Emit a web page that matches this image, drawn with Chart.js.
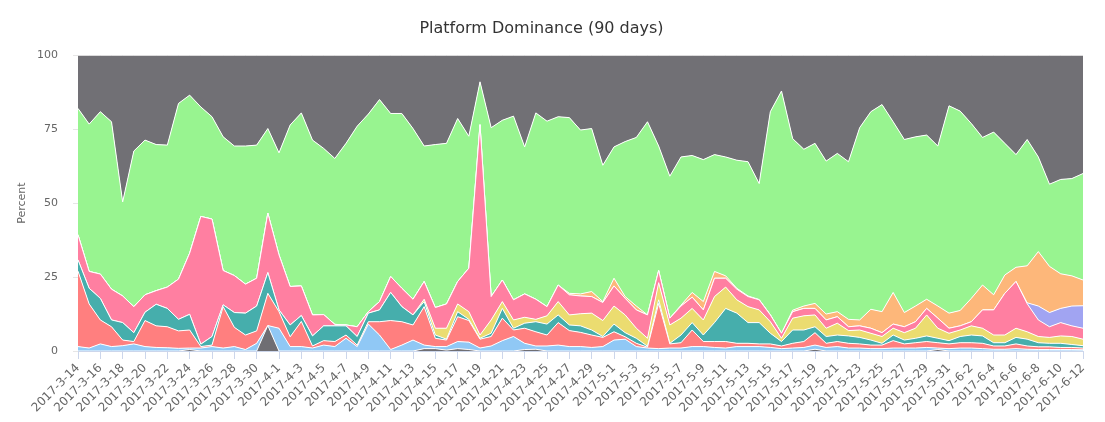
<!DOCTYPE html>
<html>
<head>
<meta charset="utf-8">
<script src="https://cdn.jsdelivr.net/npm/chart.js@4.4.1/dist/chart.umd.min.js"></script>
<style>
  html, body { margin: 0; padding: 0; background: #fff; }
  #wrap { width: 1105px; height: 422px; position: relative; }
</style>
</head>
<body>
<div id="wrap"><canvas id="chart"></canvas></div>
<script>
// days, 2017-3-14 .. 2017-6-12
const days = [
  '2017-3-14','2017-3-15','2017-3-16','2017-3-17','2017-3-18','2017-3-19','2017-3-20','2017-3-21','2017-3-22','2017-3-23',
  '2017-3-24','2017-3-25','2017-3-26','2017-3-27','2017-3-28','2017-3-29','2017-3-30','2017-3-31','2017-4-1','2017-4-2',
  '2017-4-3','2017-4-4','2017-4-5','2017-4-6','2017-4-7','2017-4-8','2017-4-9','2017-4-10','2017-4-11','2017-4-12',
  '2017-4-13','2017-4-14','2017-4-15','2017-4-16','2017-4-17','2017-4-18','2017-4-19','2017-4-20','2017-4-21','2017-4-22',
  '2017-4-23','2017-4-24','2017-4-25','2017-4-26','2017-4-27','2017-4-28','2017-4-29','2017-4-30','2017-5-1','2017-5-2',
  '2017-5-3','2017-5-4','2017-5-5','2017-5-6','2017-5-7','2017-5-8','2017-5-9','2017-5-10','2017-5-11','2017-5-12',
  '2017-5-13','2017-5-14','2017-5-15','2017-5-16','2017-5-17','2017-5-18','2017-5-19','2017-5-20','2017-5-21','2017-5-22',
  '2017-5-23','2017-5-24','2017-5-25','2017-5-26','2017-5-27','2017-5-28','2017-5-29','2017-5-30','2017-5-31','2017-6-1',
  '2017-6-2','2017-6-3','2017-6-4','2017-6-5','2017-6-6','2017-6-7','2017-6-8','2017-6-9','2017-6-10','2017-6-11',
  '2017-6-12'
];

const yTicks = [0, 25, 50, 75, 100];

// percent per platform, bottom of the stack first
const darkSmall = [
  0,0,0,0,0,0,0,0,0,0, 0.5,0,0,0,0,0,0,8.6,0,0,
  0,0,0,0,0,0,0,0,0,0, 0,0.8,0.8,0.3,0.8,0.5,0,0,0,0,
  0.5,0.6,0,0,0,0,0,0,0,0, 0,0,0,0,0,0,0,0,0,0,
  0,0,0,0,0,0,0.6,0,0,0, 0,0,0,0,0,0,0,0.5,0,0,
  0,0,0,0,0,0,0,0,0,0, 0
];
const skyBlue = [
  1.5,1.0,2.4,1.5,1.8,2.4,1.5,1.2,1.1,0.9, 0.5,1.0,1.5,1.0,1.5,0.5,2.6,0,7.7,1.5,
  1.5,1.0,2.0,1.5,4.3,1.5,9.1,5.4,0.5,2.0, 3.7,1.2,0.7,1.2,2.4,2.5,1.0,1.7,3.5,4.9,
  2.1,1.1,1.7,2.0,1.5,1.5,1.2,1.5,3.7,4.0, 1.5,1.0,0.8,1.0,1.0,1.5,1.5,1.2,1.0,1.5,
  1.5,1.5,1.2,0.8,1.0,1.2,1.4,1.2,1.5,1.0, 1.0,0.8,0.8,1.0,1.0,1.0,1.2,0.5,0.8,1.0,
  1.0,0.8,0.6,0.6,0.8,0.6,0.5,0.5,0.5,0.5, 0.4
];
const salmon = [
  25.5,14.9,8.1,6.7,1.9,0.8,8.8,7.3,7.1,5.9, 6.1,0.5,0.5,14.0,6.5,4.9,4.2,10.9,5.6,3.3,
  8.5,0.7,1.5,1.7,1.1,0.5,0.8,4.5,9.8,7.9, 5.1,13.0,2.8,2.2,8.4,7.3,3.0,3.2,7.6,2.2,
  5.1,4.8,3.7,7.6,5.4,4.8,4.2,3.1,2.8,0.8, 1.1,0.3,15.3,1.4,1.8,5.6,1.7,2.0,2.2,1.1,
  1.1,0.9,1.2,0.9,1.6,2.0,4.2,1.4,1.7,1.6, 1.4,1.2,1.2,2.5,1.4,1.8,2.0,1.8,1.6,1.8,
  1.8,1.8,1.1,1.1,1.6,1.1,0.9,0.9,0.7,0.7, 0.6
];
const teal = [
  3.8,5.3,7.3,2.3,5.9,3.0,2.8,7.3,6.2,3.9, 5.3,0.8,2.9,0.6,5.0,7.4,8.4,7.0,0.6,4.0,
  2.0,3.4,5.0,5.3,3.1,2.9,2.9,4.0,9.5,5.1, 3.4,1.7,1.1,0.3,1.7,0.4,0.3,1.1,3.3,0.6,
  1.7,3.4,3.7,2.6,1.9,2.2,1.7,0.3,2.6,1.4, 1.7,0.3,1.2,0.2,2.6,2.5,2.2,6.4,11.2,10.2,
  7.0,7.2,3.6,1.5,4.5,3.9,2.0,2.3,2.2,2.5, 2.2,1.7,0.6,1.9,1.3,1.5,1.9,1.5,1.1,2.1,
  2.6,2.5,1.1,1.1,2.2,2.3,1.4,1.2,1.4,1.0, 0.8
];
const yellow = [
  0,0,0,0,0,0,0,0,0,0, 0,0,0,0,0,0,0,0,0,0,
  0,0,0,0,0,0,0,0,0,0, 0,0.8,2.3,3.7,2.6,2.6,1.1,4.5,2.3,2.8,
  2.0,0.8,2.8,4.5,3.4,4.1,5.7,5.4,6.1,6.0, 3.4,2.7,5.8,6.2,5.7,4.8,5.1,8.8,7.2,4.5,
  5.4,4.3,3.9,1.1,4.0,4.8,4.0,2.8,4.0,1.8, 2.5,2.3,2.3,2.3,2.5,3.4,7.1,3.4,2.5,2.2,
  3.1,2.6,2.6,2.6,3.1,2.5,2.1,2.0,2.5,2.7, 2.2
];
const pink = [
  8.5,5.7,8.2,10.4,9.0,8.8,5.9,4.6,7.2,13.6, 20.7,43.2,39.7,11.6,12.5,9.8,9.4,20.1,18.6,13.0,
  10.0,7.1,3.8,0.5,0.3,3.3,0.5,2.8,5.4,6.2, 5.3,6.0,7.0,8.2,7.6,14.7,71.1,7.9,7.3,6.8,
  7.9,6.8,3.1,5.6,6.8,6.0,5.6,6.1,6.8,5.6, 6.2,7.9,4.1,2.3,4.1,3.8,3.4,6.2,3.0,3.6,
  3.4,3.4,2.3,1.7,2.2,2.5,2.2,2.8,2.2,1.3, 1.4,1.7,1.3,1.4,2.0,2.2,2.2,3.4,1.7,1.4,
  1.4,6.2,8.5,14.1,15.8,9.5,5.6,3.6,4.5,3.6, 3.7
];
const periwinkle = [
  0,0,0,0,0,0,0,0,0,0, 0,0,0,0,0,0,0,0,0,0,
  0,0,0,0,0,0,0,0,0,0, 0,0,0,0,0,0,0,0,0,0,
  0,0,0,0,0,0,0,0,0,0, 0,0,0,0,0,0,0,0,0,0,
  0,0,0,0,0,0,0,0,0,0, 0,0,0,0,0,0,0,0,0,0,
  0,0,0,0,0,0.3,4.7,4.8,4.8,6.7, 7.6
];
const orange = [
  0,0,0,0,0,0,0,0,0,0, 0,0,0,0,0,0,0,0,0,0,
  0,0,0,0,0,0,0,0,0,0, 0,0,0,0,0,0,0,0,0,0,
  0,0,0,0,0.5,0.7,1.7,0.3,2.6,0.6, 1.3,0,0,0,0.3,1.6,2.8,2.3,0.8,0.3,
  0.2,0.1,0.1,0,0.5,0.8,1.7,2.0,1.7,2.5, 2.0,6.4,7.1,10.7,4.8,5.3,3.1,4.1,5.1,5.2,
  7.9,8.4,5.1,6.2,4.8,12.5,18.4,15.6,11.7,10.2, 8.7
];
const green = [
  42.7,49.8,54.9,56.6,31.8,52.6,52.3,49.4,48.0,59.4, 53.4,37.0,34.6,45.2,43.8,46.7,45.0,28.6,34.5,54.6,
  58.5,59.1,56.2,56.1,61.4,67.8,66.8,68.3,55.1,59.1, 57.7,45.8,55.1,54.3,55.1,44.6,14.5,57.1,54.0,62.1,
  49.7,63.0,62.7,56.9,59.4,55.4,55.1,46.1,44.4,52.4, 57.0,65.3,42.1,48.0,50.1,46.3,48.0,39.5,40.2,43.3,
  45.4,39.2,68.6,81.9,58.0,53.0,54.1,51.7,53.5,53.3, 65.0,66.8,70.0,57.7,58.5,57.2,55.5,54.1,70.1,67.4,
  59.1,49.9,55.0,44.5,38.1,42.7,32.0,27.8,31.9,32.9, 36.0
];
const other = [
  18.0,23.3,19.1,22.5,49.6,32.4,28.7,30.2,30.4,16.3, 13.5,17.5,20.8,27.6,30.7,30.7,30.4,24.8,33.0,23.6,
  19.5,28.7,31.5,34.9,29.8,24.0,19.9,15.0,19.7,19.7, 24.8,30.7,30.2,29.8,21.4,27.4,9.0,24.5,22.0,20.6,
  31.0,19.5,22.3,20.8,21.1,25.3,24.8,37.2,31.0,29.2, 27.8,22.5,30.7,40.9,34.4,33.9,35.3,33.6,34.4,35.5,
  36.0,43.4,19.1,12.1,28.2,31.8,29.8,35.8,33.2,36.0, 24.5,19.1,16.7,22.5,28.5,27.6,27.0,30.7,17.1,18.9,
  23.1,27.8,26.0,29.8,33.6,28.5,34.4,43.6,42.0,41.7, 40.0
];

function layer(data, color, first) {
  return {
    data: data,
    backgroundColor: color,
    borderColor: '#ffffff',
    borderWidth: 1,
    pointRadius: 0,
    pointHoverRadius: 0,
    tension: 0,
    fill: first ? 'origin' : '-1'
  };
}

new Chart(document.getElementById('chart'), {
  type: 'line',
  data: {
    labels: days,
    datasets: [
      layer(darkSmall, '#6f6e73', true),
      layer(skyBlue, '#90c8f5'),
      layer(salmon, '#ff7f7f'),
      layer(teal, '#46aeac'),
      layer(yellow, '#ebdc70'),
      layer(pink, '#ff7fa1'),
      layer(periwinkle, '#a1a4f2'),
      layer(orange, '#fdb77a'),
      layer(green, '#98f490'),
      layer(other, '#717075')
    ]
  },
  options: {
    responsive: true,
    maintainAspectRatio: false,
    animation: false,
    layout: { padding: { left: 0, right: 22, top: 8, bottom: 0 } },
    plugins: {
      legend: { display: false },
      tooltip: { enabled: false },
      title: {
        display: true,
        text: 'Platform Dominance (90 days)',
        color: '#333333',
        font: { family: 'DejaVu Sans', size: 16, weight: 'normal' },
        padding: { top: 11, bottom: 17 }
      }
    },
    scales: {
      x: {
        offset: false,
        grid: {
          drawOnChartArea: false,
          drawTicks: true,
          tickLength: 8,
          color: ctx => (ctx.index % 2 === 0 ? '#ccd6eb' : 'rgba(0,0,0,0)')
        },
        border: { color: '#ccd6eb' },
        ticks: {
          autoSkip: false,
          maxRotation: 45,
          minRotation: 45,
          padding: 2,
          color: '#666666',
          font: { family: 'DejaVu Sans', size: 12 },
          callback: (v, i) => (i % 2 === 0 ? days[i] : '')
        },
        afterFit: s => { s.height = 71; }
      },
      y: {
        stacked: true,
        min: 0,
        max: 100,
        afterBuildTicks: s => { s.ticks = yTicks.map(v => ({ value: v })); },
        grid: { color: '#e6e6e6', tickLength: 5 },
        border: { display: false },
        ticks: { color: '#666666', font: { family: 'DejaVu Sans', size: 11 }, padding: 15 },
        title: {
          display: true,
          text: 'Percent',
          color: '#666666',
          font: { family: 'DejaVu Sans', size: 11 },
          padding: { top: 16, bottom: 0 }
        },
        afterFit: s => { s.width = 78; }
      }
    }
  }
});
</script>
</body>
</html>
